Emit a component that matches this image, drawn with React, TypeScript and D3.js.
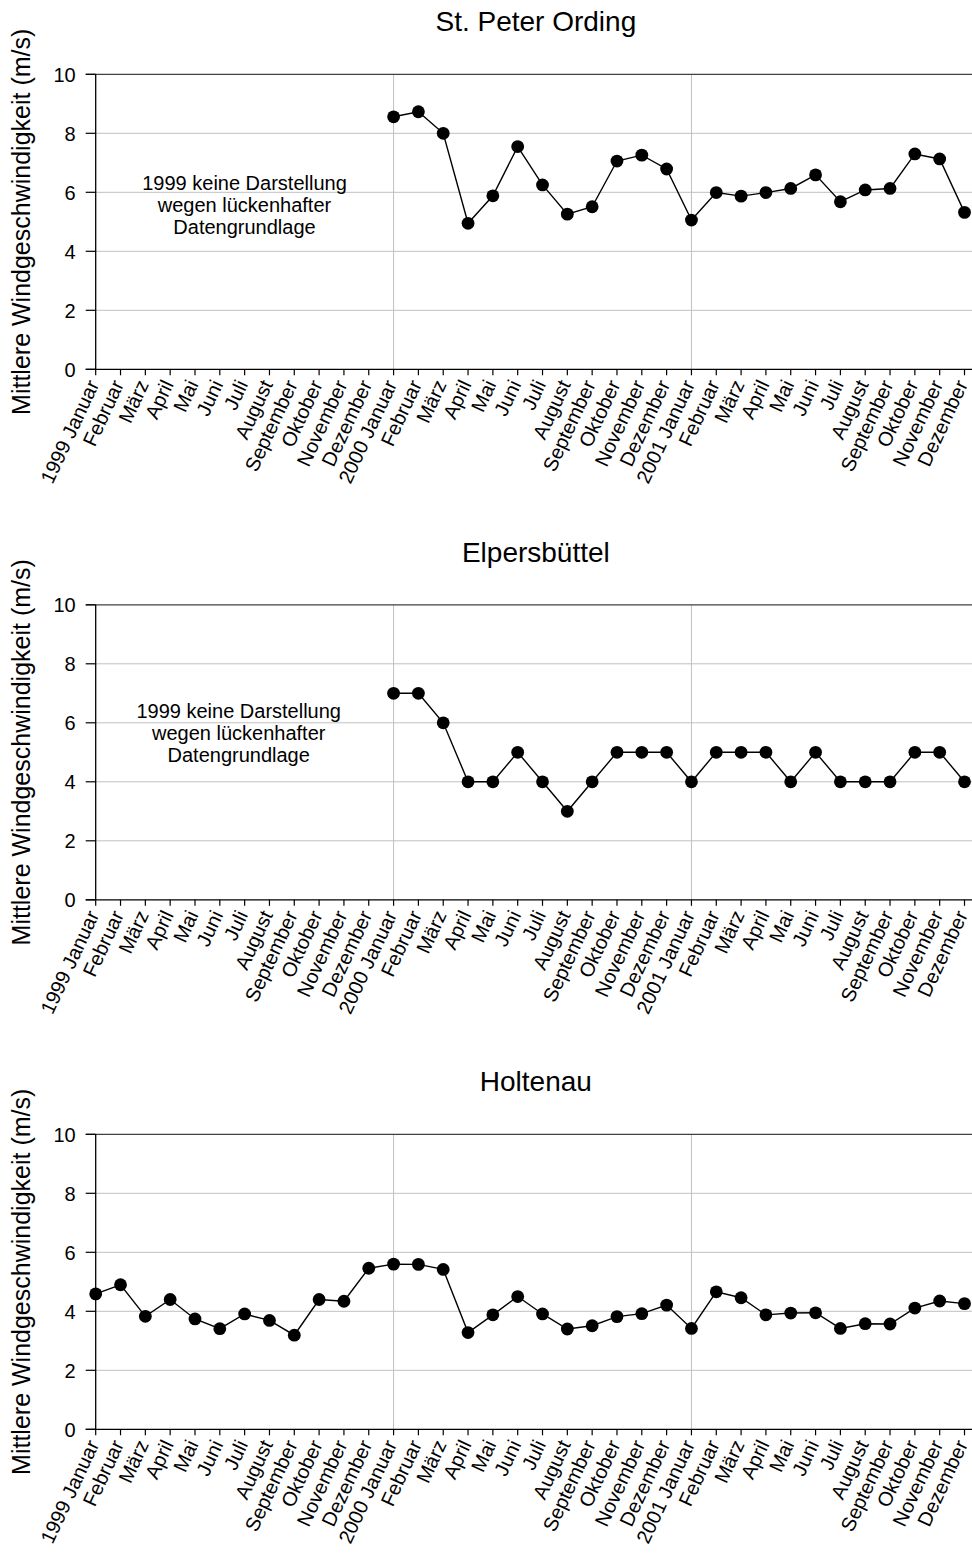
import React from "react";
import * as d3 from "d3";

const months: string[] = [
  "1999 Januar", "Februar", "März", "April", "Mai", "Juni", "Juli", "August", "September", "Oktober", "November", "Dezember",
  "2000 Januar", "Februar", "März", "April", "Mai", "Juni", "Juli", "August", "September", "Oktober", "November", "Dezember",
  "2001 Januar", "Februar", "März", "April", "Mai", "Juni", "Juli", "August", "September", "Oktober", "November", "Dezember",
];

const stPeterOrding: (number | null)[] = [
  null, null, null, null, null, null, null, null, null, null, null, null,
  8.56, 8.73, 8.0, 4.95, 5.88, 7.55, 6.25, 5.26, 5.51, 7.06, 7.26, 6.79,
  5.06, 5.99, 5.87, 5.99, 6.13, 6.59, 5.68, 6.08, 6.13, 7.3, 7.13, 5.32,
];

const elpersbuettel: (number | null)[] = [
  null, null, null, null, null, null, null, null, null, null, null, null,
  7, 7, 6, 4, 4, 5, 4, 3, 4, 5, 5, 5,
  4, 5, 5, 5, 4, 5, 4, 4, 4, 5, 5, 4,
];

const holtenau: (number | null)[] = [
  4.59, 4.9, 3.83, 4.4, 3.74, 3.41, 3.91, 3.69, 3.19, 4.4, 4.34, 5.46,
  5.6, 5.59, 5.42, 3.28, 3.88, 4.5, 3.91, 3.4, 3.51, 3.82, 3.92, 4.21,
  3.42, 4.66, 4.46, 3.88, 3.94, 3.95, 3.42, 3.58, 3.57, 4.11, 4.35, 4.26,
];

const stationNames: string[] = ["St. Peter Ording", "Elpersbüttel", "Holtenau"];
const yTicks: number[] = [0, 2, 4, 6, 8, 10];
const yAxisTitle = "Mittlere Windgeschwindigkeit (m/s)";
const noteLines: string[] = ["1999 keine Darstellung", "wegen lückenhafter", "Datengrundlage"];
const yearStartIdx: number[] = [12, 24];

const FONT = "'Liberation Sans', Arial, Helvetica, sans-serif";
const W = 972;
const H = 1556;
const LEFT = 95.7;
const LAST_X = 964.5;
const RIGHT = 972;
const PH = 295;
const panelTops = [74.3, 604.8, 1134.3];
const notes: ({ x: number; y: number } | null)[] = [
  { x: 244.5, y: 115.7 },
  { x: 238.7, y: 113.2 },
  null,
];

const series = [stPeterOrding, elpersbuettel, holtenau];

const xScale = d3.scalePoint<number>().domain(d3.range(months.length)).range([LEFT, LAST_X]);

function Panel({ idx }: { idx: number }) {
  const top = panelTops[idx];
  const y = d3.scaleLinear().domain([0, 10]).range([top + PH, top]);
  const data = series[idx];
  const y0 = y(0);
  const line = d3
    .line<number | null>()
    .defined((d) => d !== null)
    .x((_, i) => xScale(i) as number)
    .y((d) => y(d as number));
  const note = notes[idx];
  return (
    <g>
      {yTicks.filter((t) => t !== 0 && t !== 10).map((t) => (
        <line key={"g" + t} x1={LEFT} x2={RIGHT} y1={y(t)} y2={y(t)} stroke="#c0c0c0" strokeWidth={1} />
      ))}
      {yearStartIdx.map((i) => (
        <line key={"v" + i} x1={xScale(i)} x2={xScale(i)} y1={top} y2={y0} stroke="#c0c0c0" strokeWidth={1} />
      ))}
      <line x1={LEFT - 10} x2={RIGHT} y1={y(10)} y2={y(10)} stroke="#404040" strokeWidth={1.2} />
      {yTicks.map((t) => (
        <g key={"yt" + t}>
          <line x1={LEFT - 10} x2={LEFT} y1={y(t)} y2={y(t)} stroke="#000" strokeWidth={1.2} />
          <text x={LEFT - 20} y={y(t)} dy="0.36em" textAnchor="end" fontSize={20} fontFamily={FONT} fill="#000">
            {t}
          </text>
        </g>
      ))}
      <line x1={LEFT} x2={LEFT} y1={top} y2={y0} stroke="#000" strokeWidth={1.3} />
      <line x1={LEFT - 10} x2={RIGHT} y1={y0} y2={y0} stroke="#000" strokeWidth={1.3} />
      {months.map((m, i) => {
        const x = xScale(i) as number;
        return (
          <g key={"xt" + i}>
            <line x1={x} x2={x} y1={y0} y2={y0 + 6} stroke="#000" strokeWidth={1.2} />
            <text
              transform={`translate(${x - 2.5},${y0 + 12}) rotate(-65)`}
              dy="0.35em"
              textAnchor="end"
              fontSize={20}
              fontFamily={FONT}
              fill="#000"
            >
              {m}
            </text>
          </g>
        );
      })}
      <text x={(LEFT + RIGHT) / 2 + 2} y={top - 43} textAnchor="middle" fontSize={28} fontFamily={FONT} fill="#000">
        {stationNames[idx]}
      </text>
      <text
        transform={`translate(30,${top + PH / 2}) rotate(-90)`}
        textAnchor="middle"
        fontSize={25}
        fontFamily={FONT}
        fill="#000"
      >
        {yAxisTitle}
      </text>
      {note &&
        noteLines.map((l, k) => (
          <text key={"n" + k} x={note.x} y={top + note.y + k * 22} textAnchor="middle" fontSize={20} fontFamily={FONT} fill="#000">
            {l}
          </text>
        ))}
      <path d={line(data) || ""} fill="none" stroke="#000" strokeWidth={1.4} />
      {data.map((d, i) =>
        d === null ? null : <circle key={"c" + i} cx={xScale(i)} cy={y(d)} r={6.4} fill="#000" />
      )}
    </g>
  );
}

export default function App() {
  return (
    <svg
      width={W}
      height={H}
      viewBox={`0 0 ${W} ${H}`}
      style={{ position: "absolute", left: 0, top: 0, display: "block", background: "#fff" }}
    >
      <rect x={0} y={0} width={W} height={H} fill="#fff" />
      {stationNames.map((_, i) => (
        <Panel key={i} idx={i} />
      ))}
    </svg>
  );
}
